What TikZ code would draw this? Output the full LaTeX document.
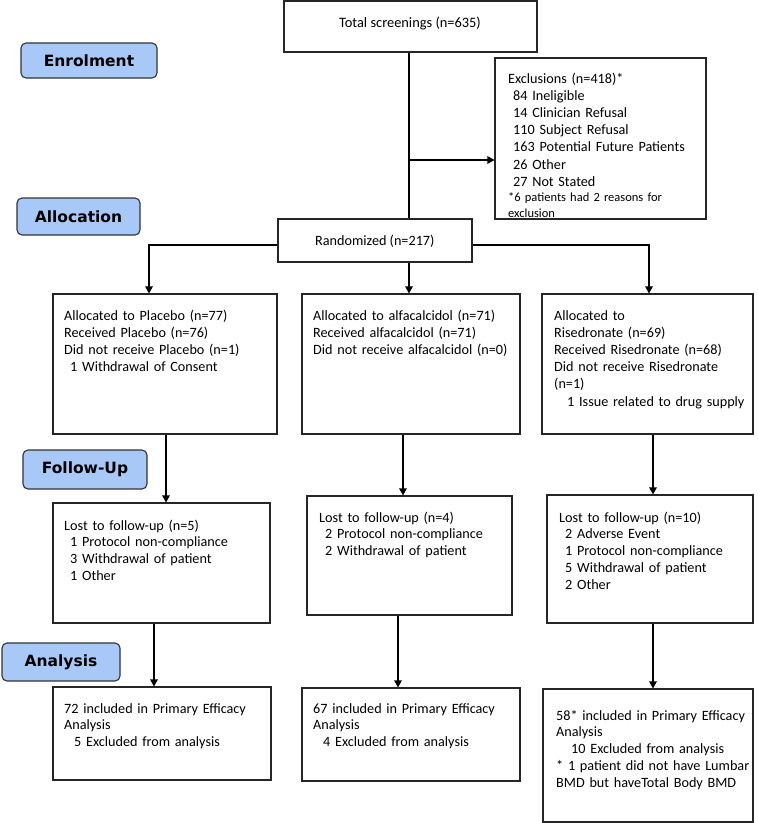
\documentclass[tikz,border=0pt]{standalone}
\usepackage{fontspec}
\setmainfont{Carlito}
\newfontfamily\labelfont{DejaVu Sans}
\usetikzlibrary{arrows.meta,fit}
\definecolor{stageblue}{RGB}{168,200,248}
\definecolor{stageline}{RGB}{50,50,50}
\tikzset{
  box/.style={draw=black!85, line width=1.1pt, inner sep=0pt},
  stagebox/.style={draw=stageline, fill=stageblue, line width=1.1pt, rounded corners=5pt, inner sep=0pt},
  stagetext/.style={font=\labelfont\bfseries\fontsize{15.5}{18}\selectfont},
  txt/.style={anchor=base west, inner sep=0pt, align=left, text width=260pt, font=\fontsize{14.2}{17.2}\selectfont},
  txtb/.style={anchor=base west, inner sep=0pt, align=left, text width=260pt, font=\fontsize{14.2}{16.8}\selectfont},
  small/.style={anchor=base west, inner sep=0pt, align=left, text width=260pt, font=\fontsize{12.5}{16}\selectfont},
  conn/.style={line width=1.3pt, black},
  arr/.style={conn, -{Triangle[length=7pt,width=7.5pt]}}
}
\begin{document}
\begin{tikzpicture}[x=1pt,y=-1pt]
\useasboundingbox (0,0) rectangle (758,823);
% stage labels
\node[stagebox, fit={(21,43) (157,78)}] (enr) {};
\node[stagetext] (enrt) at (enr.center) {Enrolment};
\node[stagebox, fit={(17,198) (140,235)}] (all) {};
\node[stagetext] (allt) at (all.center) {Allocation};
\node[stagebox, fit={(23,450) (147,489)}] (fol) {};
\node[stagetext] (folt) at (fol.center) {Follow-Up};
\node[stagebox, fit={(2,643) (120,681)}] (ana) {};
\node[stagetext] (anat) at (ana.center) {Analysis};
% boxes
\node[box, fit={(284,1) (537,52)}] (total) {};
\node[box, fit={(495,58) (706,219)}] (excl) {};
\node[box, fit={(278,219) (472,262)}] (rand) {};
\node[box, fit={(53,294) (277,434)}] (al1) {};
\node[box, fit={(302,294) (520,434)}] (al2) {};
\node[box, fit={(542,294) (753,434)}] (al3) {};
\node[box, fit={(53,503) (270,623)}] (fu1) {};
\node[box, fit={(307,496) (512,615)}] (fu2) {};
\node[box, fit={(547,495) (753,623)}] (fu3) {};
\node[box, fit={(53,687) (271,780)}] (an1) {};
\node[box, fit={(302,688) (520,781)}] (an2) {};
\node[box, fit={(543,689) (753,822)}] (an3) {};
% texts
\node[anchor=base, inner sep=0pt, font=\fontsize{14.4}{17.2}\selectfont] (totalt) at (410,27) {Total screenings (n=635)};
\node[txt] (exclt) at (508,83) {Exclusions (n=418)*\\
\hspace*{5pt}84 Ineligible\\
\hspace*{5pt}14 Clinician Refusal\\
\hspace*{5pt}110 Subject Refusal\\
\hspace*{5pt}163 Potential Future Patients\\
\hspace*{5pt}26 Other\\
\hspace*{5pt}27 Not Stated};
\node[small] (excls) at (508,201.5) {*6 patients had 2 reasons for\\exclusion};
\node[anchor=base west, inner sep=0pt, font=\fontsize{14.2}{17.2}\selectfont] (randt) at (315,245) {Randomized (n=217)};
\node[txt] (al1t) at (64,320) {Allocated to Placebo (n=77)\\
Received Placebo (n=76)\\
Did not receive Placebo (n=1)\\
\hspace*{6pt}1 Withdrawal of Consent};
\node[txt] (al2t) at (313,320) {Allocated to alfacalcidol (n=71)\\
Received alfacalcidol (n=71)\\
Did not receive alfacalcidol (n=0)};
\node[txt] (al3t) at (554,320) {Allocated to\\
Risedronate (n=69)\\
Received Risedronate (n=68)\\
Did not receive Risedronate\\
(n=1)\\
\hspace*{13pt}1 Issue related to drug supply};
\node[txtb] (fu1t) at (64,530) {Lost to follow-up (n=5)\\
\hspace*{6pt}1 Protocol non-compliance\\
\hspace*{6pt}3 Withdrawal of patient\\
\hspace*{6pt}1 Other};
\node[txtb] (fu2t) at (319,522) {Lost to follow-up (n=4)\\
\hspace*{6pt}2 Protocol non-compliance\\
\hspace*{6pt}2 Withdrawal of patient};
\node[txtb] (fu3t) at (559,522) {Lost to follow-up (n=10)\\
\hspace*{6pt}2 Adverse Event\\
\hspace*{6pt}1 Protocol non-compliance\\
\hspace*{6pt}5 Withdrawal of patient\\
\hspace*{6pt}2 Other};
\node[txtb] (an1t) at (64,713) {72 included in Primary Efficacy\\
Analysis\\
\hspace*{10pt}5 Excluded from analysis};
\node[txtb] (an2t) at (313,713) {67 included in Primary Efficacy\\
Analysis\\
\hspace*{10pt}4 Excluded from analysis};
\node[txtb] (an3t) at (556,720) {58* included in Primary Efficacy\\
Analysis\\
\hspace*{15pt}10 Excluded from analysis\\
{*} 1 patient did not have Lumbar\\
BMD but haveTotal Body BMD};
% helper coordinates
\coordinate (trunk) at (409,0);
\coordinate (exy) at (0,160);
\coordinate (ry) at (0,245);
\coordinate (lx) at (149,0);
\coordinate (rx) at (649,0);
\coordinate (f1x) at (166,0);
\coordinate (f2x) at (403,0);
\coordinate (f3x) at (653,0);
\coordinate (a1x) at (154,0);
\coordinate (a2x) at (398,0);
\coordinate (a3x) at (653,0);
% connectors
\draw[conn] (total.south -| trunk) -- (rand.north -| trunk);
\draw[arr] (trunk |- exy) -- (excl.west |- exy);
\draw[arr] (rand.west |- ry) -- (lx |- ry) -- (al1.north -| lx);
\draw[arr] (rand.east |- ry) -- (rx |- ry) -- (al3.north -| rx);
\draw[arr] (rand.south -| trunk) -- (al2.north -| trunk);
\draw[arr] (al1.south -| f1x) -- (fu1.north -| f1x);
\draw[arr] (al2.south -| f2x) -- (fu2.north -| f2x);
\draw[arr] (al3.south -| f3x) -- (fu3.north -| f3x);
\draw[arr] (fu1.south -| a1x) -- (an1.north -| a1x);
\draw[arr] (fu2.south -| a2x) -- (an2.north -| a2x);
\draw[arr] (fu3.south -| a3x) -- (an3.north -| a3x);
\end{tikzpicture}
\end{document}
